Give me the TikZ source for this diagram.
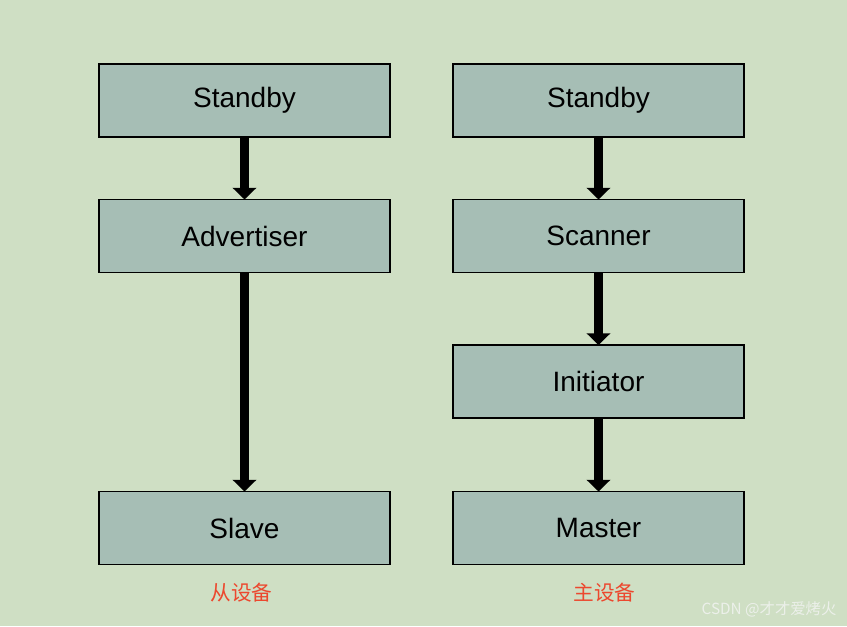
\documentclass[tikz,border=0pt]{standalone}
\usepackage{fontspec}
\setmainfont{Liberation Sans}
\newfontfamily\cjk{Noto Sans CJK SC}
\usetikzlibrary{arrows.meta}
\definecolor{bgc}{RGB}{207,223,196}
\definecolor{boxc}{RGB}{166,190,181}
\definecolor{redc}{RGB}{236,72,46}
\definecolor{wmc}{RGB}{236,240,234}
\begin{document}
\begin{tikzpicture}[x=0.75pt,y=-0.75pt,
  statebox/.style={draw=black,fill=boxc,line width=0.9pt,minimum width=218.25pt,minimum height=54.75pt,inner sep=0pt,outer sep=0pt,font=\fontsize{21}{24}\selectfont},
  flow/.style={line width=6.4pt,-{Triangle[width=17.5pt,length=8.8pt]}},
  cnlabel/.style={text=redc,font=\cjk\fontsize{15.5}{18}\selectfont,inner sep=0pt}]
\fill[bgc] (0,0) rectangle (847,626);
\useasboundingbox (0,0) rectangle (847,626);
\node[statebox] (ls) at (244.5,100.5) {Standby};
\node[statebox] (la) at (244.5,236) {Advertiser};
\node[statebox] (lsl) at (244.5,528) {Slave};
\node[statebox] (rs) at (598.5,100.5) {Standby};
\node[statebox] (rsc) at (598.5,236) {Scanner};
\node[statebox] (ri) at (598.5,381.5) {Initiator};
\node[statebox] (rm) at (598.5,528) {Master};
\draw[flow] (ls.south) -- (la.north);
\draw[flow] (la.south) -- (lsl.north);
\draw[flow] (rs.south) -- (rsc.north);
\draw[flow] (rsc.south) -- (ri.north);
\draw[flow] (ri.south) -- (rm.north);
\node[cnlabel] (lc) at (241.5,593) {从设备};
\node[cnlabel] (rc) at (604.5,593) {主设备};
\node[text=wmc,font=\cjk\fontsize{11.5}{13}\selectfont,inner sep=0pt] (wm) at (769,609) {CSDN @才才爱烤火};
\end{tikzpicture}
\end{document}
